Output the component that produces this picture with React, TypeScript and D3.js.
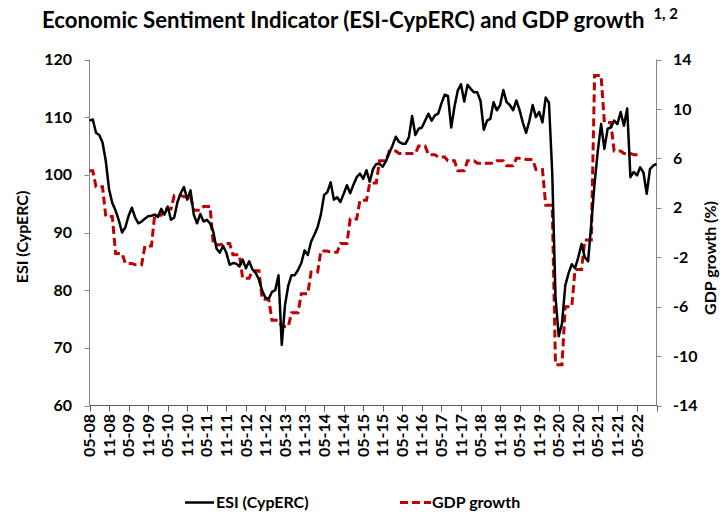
import React from 'react';
import {scaleLinear, line} from 'd3';

// monthly ESI, May 2008 .. Nov 2022
const esi = [
  109.4, 109.6, 107.3, 106.9, 105.6, 102.4, 97.5, 95.1, 93.8, 92.1,
  90.0, 90.9, 92.9, 94.3, 92.6, 91.6, 91.9, 92.4, 92.8, 92.9,
  93.1, 92.7, 94.1, 93.1, 94.5, 92.2, 92.6, 95.3, 96.8, 97.9,
  95.7, 97.3, 93.1, 91.6, 93.2, 91.9, 92.2, 91.6, 90.1, 87.2,
  86.5, 87.7, 86.5, 84.4, 84.7, 84.6, 84.1, 85.3, 83.8, 85.0,
  83.6, 83.0, 81.8, 79.9, 78.7, 78.5, 79.7, 80.0, 82.6, 70.5,
  77.4, 80.8, 82.6, 82.6, 83.5, 84.7, 86.9, 86.1, 88.4, 89.6,
  90.9, 93.1, 96.5, 97.0, 98.7, 95.7, 96.1, 95.3, 96.7, 98.2,
  96.8, 98.3, 99.6, 100.2, 99.3, 100.8, 98.8, 101.0, 101.9, 101.9,
  101.4, 102.4, 103.8, 105.1, 106.6, 105.7, 105.4, 105.4, 106.5, 110.2,
  106.9, 108.0, 108.2, 109.4, 110.6, 109.4, 110.3, 110.6, 112.4, 113.9,
  113.7, 108.2, 111.8, 114.6, 115.7, 112.7, 115.6, 114.9, 114.3, 114.3,
  112.8, 107.8, 109.4, 109.7, 112.6, 111.2, 112.1, 114.7, 112.6, 112.1,
  111.2, 112.9, 111.2, 109.0, 107.3, 109.4, 112.1, 110.0, 110.9, 109.1,
  113.4, 112.5, 100.4, 78.9, 72.0, 74.2, 80.8, 82.9, 84.5, 83.8,
  85.7, 88.0, 85.7, 85.0, 91.6, 98.5, 104.2, 108.8, 104.5, 108.0,
  108.2, 109.4, 108.8, 110.9, 108.5, 111.5, 99.6, 100.5, 99.9, 101.3,
  100.4, 96.7, 101.0, 101.6, 101.9
];

// quarterly GDP growth (%), Q2 2008 .. Q2 2022
const gdpGrowth = [
  5.0, 3.7, 1.3, -1.7, -2.5, -2.6, -1.1, 1.4, 1.9, 3.0,
  2.9, 1.8, 2.1, -1.0, -0.9, -1.8, -3.7, -3.1, -5.4, -7.1,
  -7.6, -6.5, -4.95, -3.2, -1.5, -1.6, -0.9, 1.1, 2.6, 4.0,
  5.8, 6.6, 6.4, 6.4, 7.0, 6.3, 6.1, 5.8, 5.0, 5.8,
  5.6, 5.6, 5.8, 5.4, 6.0, 5.9, 5.1, 2.2, -10.7, -6.0,
  -3.0, -0.6, 12.7, 8.9, 6.6, 6.4, 6.3
];

const tickLabels = [
  '05-08', '11-08', '05-09', '11-09', '05-10', '11-10', '05-11', '11-11',
  '05-12', '11-12', '05-13', '11-13', '05-14', '11-14', '05-15', '11-15',
  '05-16', '11-16', '05-17', '11-17', '05-18', '11-18', '05-19', '11-19',
  '05-20', '11-20', '05-21', '11-21', '05-22'
];
const esiTicks = [60, 70, 80, 90, 100, 110, 120];
const gdpTicks = [-14, -10, -6, -2, 2, 6, 10, 14];

const W = 722, H = 512;
const margin = {left: 89.5, right: 656.5, top: 59.5, bottom: 405.5};
const font = 'Lato, "Open Sans", sans-serif';
const red = '#C00000';

export default function App() {
    const lastMonth = esi.length - 1;
    const x = scaleLinear().domain([0, lastMonth]).range([margin.left, margin.right]);
    const yL = scaleLinear().domain([60, 120]).range([margin.bottom, margin.top]);
    const yR = scaleLinear().domain([-14, 14]).range([margin.bottom, margin.top]);

    // each quarter's value is held over its three months
    const gdpMonthly = gdpGrowth.flatMap((g, q) =>
        [3 * q - 1, 3 * q, 3 * q + 1].filter(m => m >= 0 && m <= lastMonth).map(m => ({m, g})));

    const esiLine = line<number>().x((d, i) => x(i)).y(d => yL(d));
    const gdpLine = line<{m: number, g: number}>().x(d => x(d.m)).y(d => yR(d.g));

    const monthTicks = [];
    for (let m = 0; m <= lastMonth; m += 6) monthTicks.push(m);

    return (
        <svg width={W} height={H} style={{position: 'absolute', left: 0, top: 0, background: '#fff'}}
             fontFamily={font} fontWeight="bold">
            <text x="42" y="28" fontSize="22.2" fill="#000">
                Economic Sentiment Indicator (ESI-CypERC) and GDP growth
                <tspan fontSize="15" dx="9" dy="-9">1, 2</tspan>
            </text>

            {/* left axis */}
            <g stroke="#868686" strokeWidth="1">
                <line x1={margin.left} y1={margin.top} x2={margin.left} y2={margin.bottom}/>
                {esiTicks.map(t => <line key={t} x1={margin.left - 5} x2={margin.left} y1={Math.round(yL(t)) + 0.5} y2={Math.round(yL(t)) + 0.5}/>)}
            </g>
            {esiTicks.map(t => <text key={t} x="72" y={yL(t)} dy="0.35em" textAnchor="end" fontSize="16">{t}</text>)}
            <text transform={`translate(28,237) rotate(-90)`} textAnchor="middle" fontSize="16">ESI (CypERC)</text>

            {/* right axis */}
            <g stroke="#868686" strokeWidth="1">
                <line x1={margin.right} y1={margin.top} x2={margin.right} y2={margin.bottom}/>
                {gdpTicks.map(t => <line key={t} x1={margin.right} x2={margin.right + 5} y1={Math.round(yR(t)) + 0.5} y2={Math.round(yR(t)) + 0.5}/>)}
            </g>
            {gdpTicks.map(t => <text key={t} x="673" y={yR(t)} dy="0.35em" textAnchor="start" fontSize="16">{t}</text>)}
            <text transform={`translate(716,258) rotate(-90)`} textAnchor="middle" fontSize="16">GDP growth (%)</text>

            {/* bottom axis */}
            <g stroke="#595959" strokeWidth="1">
                <line x1={margin.left} y1={margin.bottom} x2={margin.right} y2={margin.bottom}/>
                {monthTicks.map(m => <line key={m} x1={Math.round(x(m)) + 0.5} x2={Math.round(x(m)) + 0.5} y1={margin.bottom} y2={margin.bottom + 6}/>)}
            </g>
            {tickLabels.map((l, i) =>
                <text key={l} transform={`translate(${x(i * 6)},414) rotate(-90)`} dy="0.35em" textAnchor="end" fontSize="16">{l}</text>)}

            <path d={gdpLine(gdpMonthly)} fill="none" stroke={red} strokeWidth="3" strokeDasharray="8,4"/>
            <path d={esiLine(esi)} fill="none" stroke="#000" strokeWidth="2.5" strokeLinejoin="round"/>

            {/* legend */}
            <line x1="185" x2="214" y1="502.5" y2="502.5" stroke="#000" strokeWidth="2.5"/>
            <text x="216" y="508" fontSize="16">ESI (CypERC)</text>
            <line x1="400" x2="431" y1="502.5" y2="502.5" stroke={red} strokeWidth="3" strokeDasharray="8,4"/>
            <text x="432" y="508" fontSize="16">GDP growth</text>
        </svg>
    );
}
